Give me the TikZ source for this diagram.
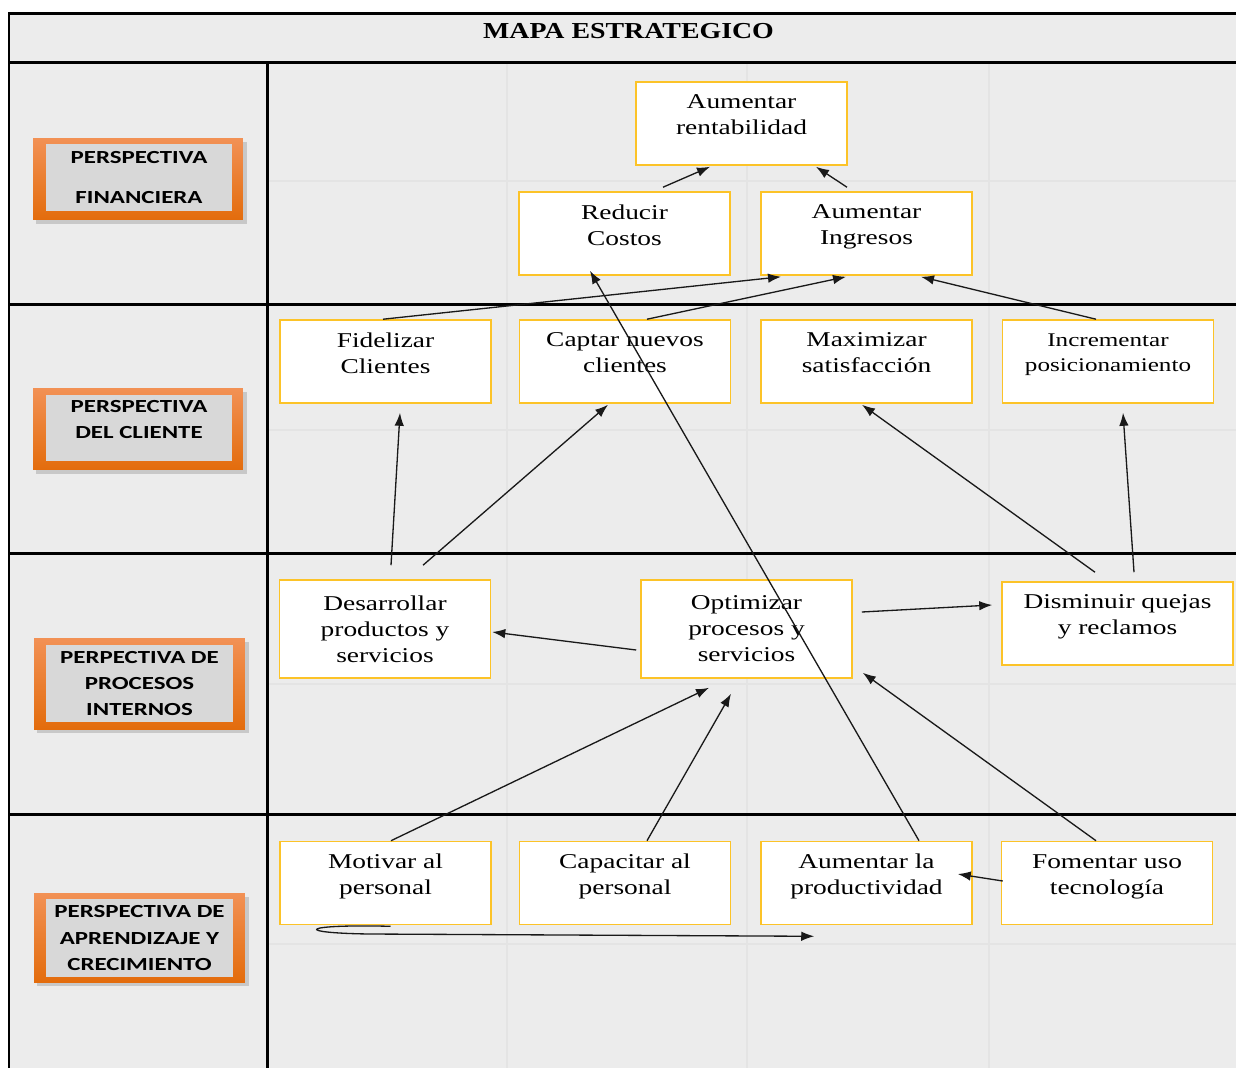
\documentclass[tikz,border=0pt]{standalone}
\usepackage{fontspec}
\usetikzlibrary{arrows.meta,calc}
\newfontfamily\boxfont[FakeStretch=1.3]{Liberation Serif}
\newfontfamily\labfont[FakeStretch=1.35]{Carlito}
\newfontfamily\titfont[FakeStretch=1.22]{Liberation Serif}
\definecolor{bggray}{RGB}{236,236,236}
\definecolor{faint}{RGB}{228,228,228}
\definecolor{boxline}{RGB}{252,195,40}
\definecolor{orlight}{RGB}{242,145,85}
\definecolor{ordark}{RGB}{227,108,12}
\definecolor{labgray}{RGB}{216,216,216}
\newcommand\lowstrut{\rule[-10pt]{0pt}{10pt}}
\begin{document}
\begin{tikzpicture}[x=0.02cm,y=-0.02cm,
 ybox/.style={draw=boxline, line width=0.9pt, fill=white, minimum width=4.22cm, minimum height=1.66cm, inner sep=0pt, align=center, font=\boxfont\fontsize{12}{14.8}\selectfont},
 tall/.style={minimum height=1.96cm},
 labout/.style={top color=orlight, bottom color=ordark, minimum width=4.2cm, minimum height=1.64cm, inner sep=0pt},
 labin/.style={fill=labgray, minimum width=3.72cm, minimum height=1.34cm, inner sep=0pt, align=center, font=\labfont\bfseries\fontsize{10.5}{15}\selectfont},
 labshade/.style={fill=black, opacity=0.15},
 tablerule/.style={line width=0.06cm, black},
 faintline/.style={faint, line width=0.6pt},
 arr/.style={-{Latex[length=2.6mm,width=1.9mm]}, line width=0.75pt, black!90}
]
\useasboundingbox (0,0) rectangle (1236,1068);
% background
\fill[bggray] (9,14) rectangle (1236,1068);
% faint spreadsheet grid
\foreach \xx in {507,747,989} \draw[faintline] (\xx,63) -- (\xx,1068);
\foreach \yy in {181,430,684,944} \draw[faintline] (267,\yy) -- (1236,\yy);
% table rules
\draw[tablerule] (1236,14) -- (9,14) -- (9,1068);
\foreach \yy in {63,304,553,814} \draw[tablerule] (9,\yy) -- (1236,\yy);
\draw[tablerule] (267,63) -- (267,1068);
% title
\node[font=\titfont\bfseries\fontsize{13}{15}\selectfont] (title) at (628.5,31) {MAPA ESTRATEGICO};

% perspective labels
\fill[labshade] (36,142) rectangle (247,224);
\node[labout] (lf) at (138,179) {};
\node[labin] (lft) at (139,177.5) {PERSPECTIVA\\[7.7pt]FINANCIERA};

\fill[labshade] (36,392) rectangle (247,474);
\node[labout] (lc) at (138,429) {};
\node[labin] (lct) at (139,428) {PERSPECTIVA\\DEL CLIENTE\lowstrut};

\fill[labshade] (37,642) rectangle (249,733);
\node[labout, minimum width=4.22cm, minimum height=1.82cm] (lp) at (139.5,683.5) {};
\node[labin, minimum width=3.74cm, minimum height=1.54cm] (lpt) at (139.5,683.5) {PERPECTIVA DE\\PROCESOS\\INTERNOS};

\fill[labshade] (37,897) rectangle (249,986);
\node[labout, minimum width=4.22cm, minimum height=1.78cm] (la) at (139.5,937.5) {};
\node[labin, minimum width=3.74cm, minimum height=1.56cm] (lat) at (139.5,938) {PERSPECTIVA DE\\APRENDIZAJE Y\\CRECIMIENTO};

% objective boxes
\node[ybox] (rent) at (741.5,123.5) {Aumentar\\rentabilidad\lowstrut};
\node[ybox] (red) at (624.5,233.5) {Reducir\\Costos\lowstrut};
\node[ybox] (ing) at (866.5,233.5) {Aumentar\\Ingresos\lowstrut};

\node[ybox] (fid) at (385.5,361.5) {Fidelizar\\Clientes\lowstrut};
\node[ybox] (cap) at (625,361.5) {Captar nuevos\\clientes\lowstrut};
\node[ybox] (max) at (866.5,361.5) {Maximizar\\satisfacción\lowstrut};
\node[ybox, font=\boxfont\fontsize{11}{14.2}\selectfont] (inc) at (1108,361.5) {Incrementar\\posicionamiento\lowstrut};

\node[ybox, tall] (des) at (385,629) {Desarrollar\\productos y\\servicios};
\node[ybox, tall] (opt) at (746.5,629) {Optimizar\\procesos y\\servicios};
\node[ybox, minimum width=4.62cm] (dis) at (1117.5,623.5) {Disminuir quejas\\y reclamos\lowstrut};

\node[ybox] (mot) at (385.5,883) {Motivar al\\personal\lowstrut};
\node[ybox] (capa) at (625,883) {Capacitar al\\personal\lowstrut};
\node[ybox] (prod) at (866.5,883) {Aumentar la\\productividad\lowstrut};
\node[ybox] (fom) at (1107,883) {Fomentar uso\\tecnología\lowstrut};

% connectors
\draw[arr] ($(red.north)+(38.5,-4)$) -- ($(rent.south)+(-31.5,1)$);
\draw[arr] ($(ing.north)+(-19.5,-4)$) -- ($(rent.south)+(74.5,1)$);
\draw[arr] ($(fid.north)+(-2.5,0)$) -- ($(ing.south)+(-85.5,1)$);
\draw[arr] ($(cap.north)+(22,0)$) -- ($(ing.south)+(-20.5,1)$);
\draw[arr] ($(inc.north)+(-12,0)$) -- ($(ing.south)+(54.5,1)$);
\draw[arr] ($(prod.north)+(52.5,0)$) -- ($(red.south)+(-34.5,-5)$);
\draw[arr] ($(des.north)+(6,-14)$) -- ($(fid.south)+(14.5,9)$);
\draw[arr] ($(des.north)+(38,-14)$) -- ($(cap.south)+(-17,1)$);
\draw[arr] ($(dis.north)+(-22.5,-9)$) -- ($(max.south)+(-4.5,1)$);
\draw[arr] ($(dis.north)+(16.5,-9)$) -- ($(inc.south)+(15,9)$);
\draw[arr] ($(opt.west)+(-4,21)$) -- ($(des.east)+(1,3)$);
\draw[arr] ($(opt.east)+(9,-17)$) -- ($(dis.west)+(-9,-18.5)$);
\draw[arr] ($(mot.north)+(5.5,0)$) -- ($(opt.south)+(-37.5,9)$);
\draw[arr] ($(capa.north)+(22,0)$) -- ($(opt.south)+(-15.5,15)$);
\draw[arr] ($(fom.north)+(-11,0)$) -- ($(opt.south east)+(10,-6)$);
\draw[arr] ($(fom.west)+(2,-2)$) -- ($(prod.east)+(-15,-9)$);
\draw[arr] ($(mot.south)+(5,1)$) .. controls (300,924) and (292,933) .. (370,934) -- ($(prod.south west)+(54,11)$);
\end{tikzpicture}
\end{document}
